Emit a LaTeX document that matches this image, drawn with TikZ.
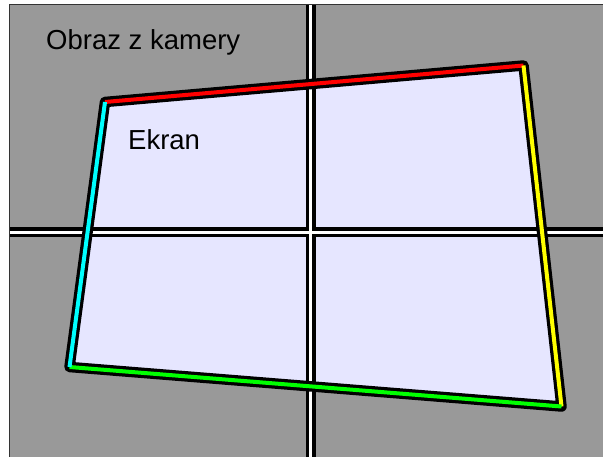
\documentclass[tikz,border=0pt]{standalone}
\usepackage{fontspec}
\setmainfont{Liberation Sans}
\definecolor{bggray}{HTML}{999999}
\definecolor{lav}{HTML}{E6E6FF}
\definecolor{framegray}{HTML}{333333}
\definecolor{cred}{HTML}{FF0000}
\definecolor{cyel}{HTML}{FFFF00}
\definecolor{cgreen}{HTML}{00FF00}
\definecolor{ccyan}{HTML}{00FFFF}
\begin{document}
\begin{tikzpicture}[x=1pt,y=-1pt,
  edgeout/.style={line width=10.5pt,black,line cap=round,line join=round},
  edgein/.style={line width=4pt,line cap=butt},
  crossblack/.style={line width=10pt,black},
  crosswhite/.style={line width=3.5pt,white},
  lbl/.style={font=\fontsize{27.5}{33}\selectfont,anchor=base west,inner sep=0pt,text=black}]
\useasboundingbox (0,0) rectangle (603,457);
\fill[white] (0,0) rectangle (603,457);
\fill[bggray] (9,5) rectangle (603,457);
% quad corners
\coordinate (tl) at (105,102);
\coordinate (tr) at (523.5,65.5);
\coordinate (br) at (561.5,406.5);
\coordinate (bl) at (69.5,367);
\fill[lav] (tl) -- (tr) -- (br) -- (bl) -- cycle;
% cross
\coordinate (vt) at (310.5,5.5);
\coordinate (vb) at (310.5,457);
\coordinate (hl) at (9.5,232.5);
\coordinate (hr) at (603,232.5);
\draw[crossblack] (vt) -- (vb);
\draw[crossblack] (hl) -- (hr);
\draw[crosswhite] (vt) -- (vb);
\draw[crosswhite] (hl) -- (hr);
% frame border
\draw[line width=1pt,framegray] (9,457) -- (9,5) -- (603,5);
% quad edges
\draw[edgeout] (tl) -- (tr) -- (br) -- (bl) -- cycle;
\draw[edgein,cred] (tl) -- (tr);
\draw[edgein,cyel] (tr) -- (br);
\draw[edgein,cgreen] (br) -- (bl);
\draw[edgein,ccyan] (bl) -- (tl);
% labels
\node[lbl] (cam) at (46,50) {Obraz z kamery};
\node[lbl] (scr) at (128,150) {Ekran};
\end{tikzpicture}
\end{document}
